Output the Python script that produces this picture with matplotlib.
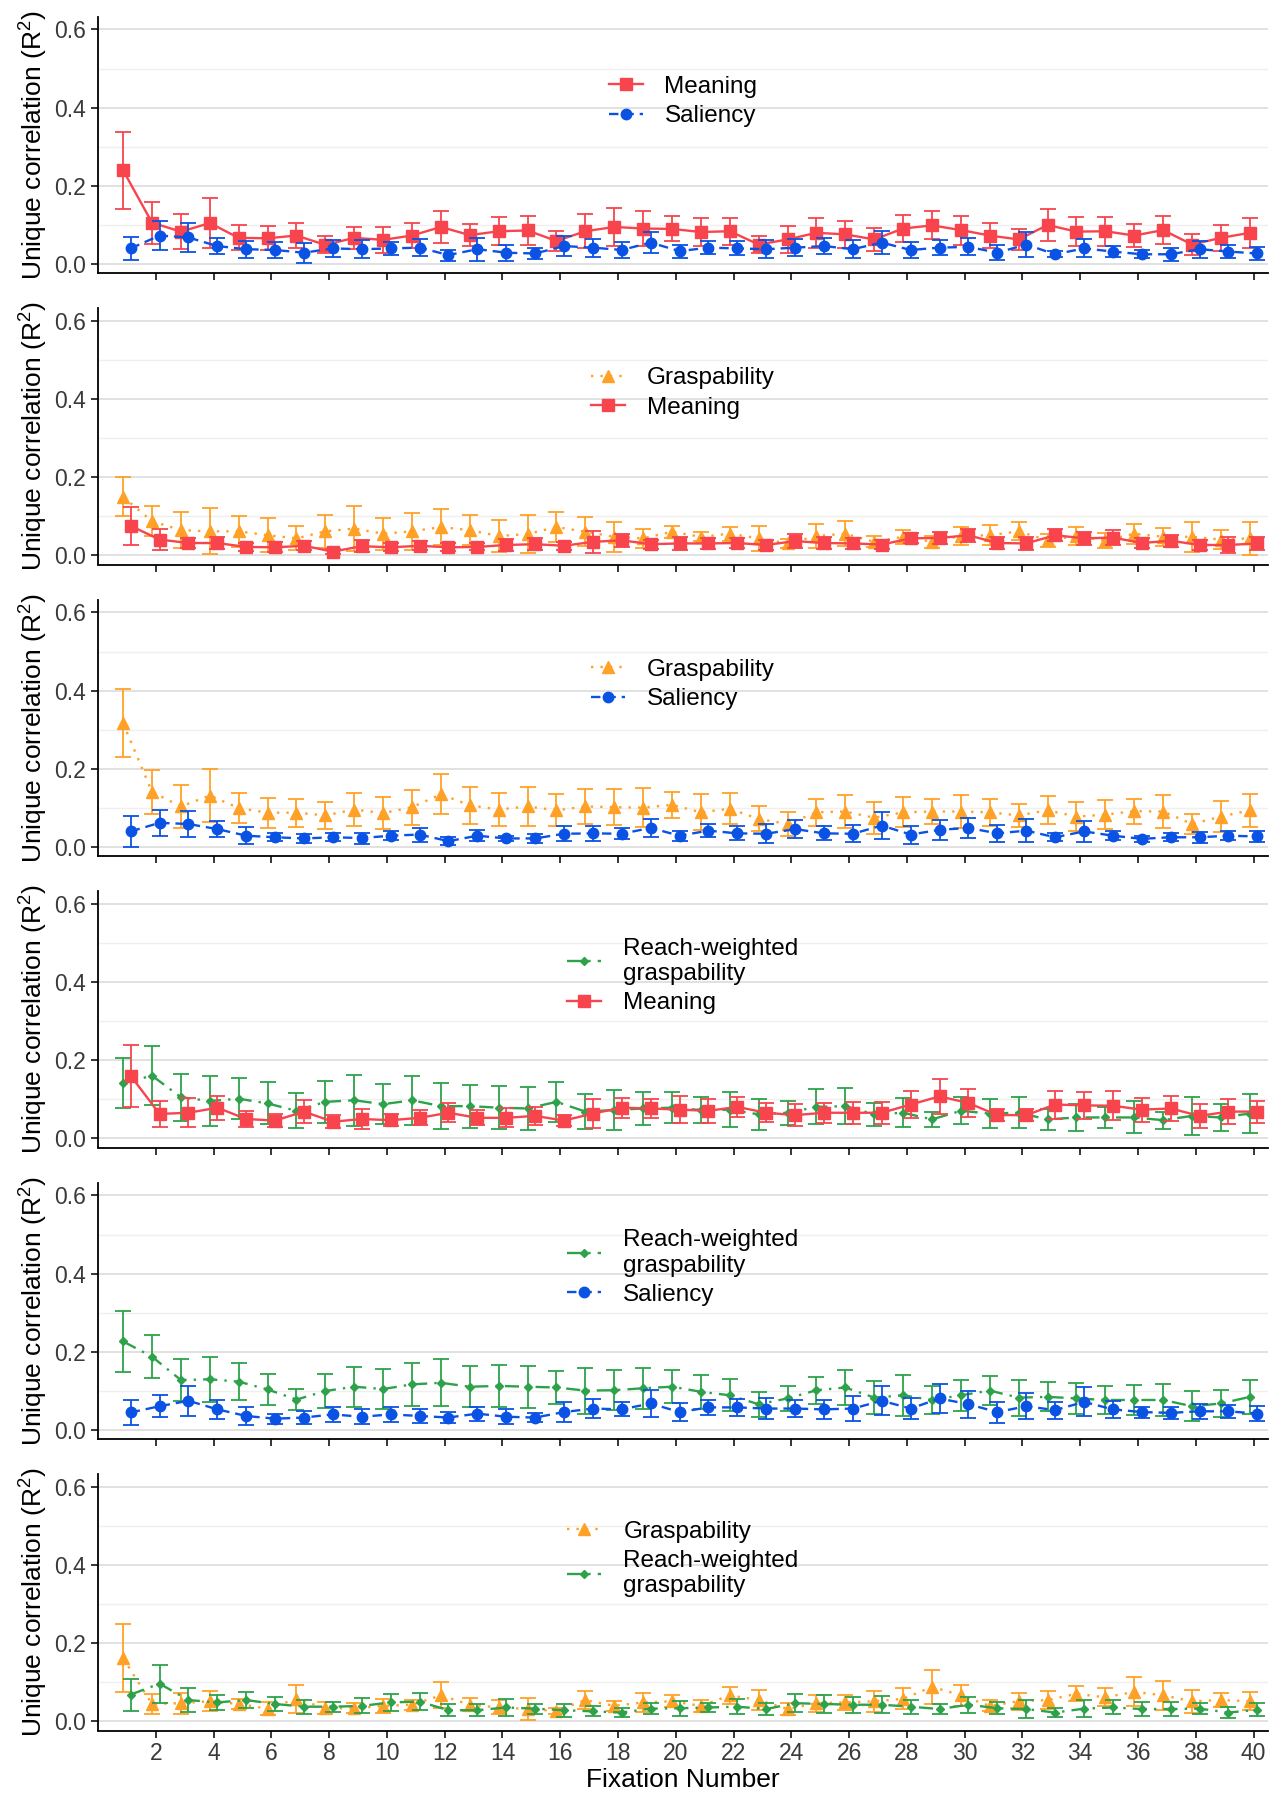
import numpy as np
from matplotlib import pyplot as plt

plt.rcParams['font.family'] = ['Liberation Sans', 'DejaVu Sans']
plt.rcParams['mathtext.fontset'] = 'custom'
plt.rcParams['mathtext.rm'] = 'Liberation Sans'
plt.rcParams['mathtext.it'] = 'Liberation Sans'

fixations = np.arange(1, 41)
x_ticks = list(range(2, 41, 2))
y_ticks = [0.0, 0.2, 0.4, 0.6]

# panel 1: Meaning vs Saliency
p1_meaning = [0.239, 0.105, 0.082, 0.104, 0.066, 0.065, 0.072, 0.048, 0.066, 0.061, 0.072, 0.094, 0.073, 0.083, 0.085, 0.058, 0.083, 0.094, 0.090, 0.089,
              0.081, 0.083, 0.049, 0.062, 0.079, 0.075, 0.062, 0.090, 0.098, 0.086, 0.072, 0.062, 0.099, 0.082, 0.083, 0.072, 0.086, 0.049, 0.066, 0.079]
p1_meaning_ci = [0.099, 0.054, 0.045, 0.064, 0.032, 0.031, 0.031, 0.022, 0.029, 0.034, 0.033, 0.040, 0.029, 0.036, 0.038, 0.025, 0.043, 0.049, 0.045, 0.032,
                 0.037, 0.035, 0.021, 0.034, 0.039, 0.035, 0.029, 0.035, 0.036, 0.037, 0.032, 0.026, 0.041, 0.038, 0.037, 0.030, 0.036, 0.027, 0.034, 0.039]
p1_saliency = [0.039, 0.072, 0.067, 0.045, 0.037, 0.035, 0.028, 0.039, 0.037, 0.039, 0.041, 0.022, 0.037, 0.028, 0.026, 0.045, 0.041, 0.035, 0.054, 0.032,
               0.041, 0.039, 0.037, 0.041, 0.045, 0.037, 0.054, 0.035, 0.041, 0.043, 0.028, 0.049, 0.024, 0.039, 0.031, 0.024, 0.024, 0.037, 0.031, 0.026]
p1_saliency_ci = [0.030, 0.038, 0.037, 0.021, 0.022, 0.021, 0.026, 0.022, 0.023, 0.017, 0.022, 0.014, 0.029, 0.021, 0.015, 0.025, 0.023, 0.021, 0.028, 0.017,
                  0.016, 0.018, 0.023, 0.021, 0.020, 0.023, 0.030, 0.021, 0.020, 0.022, 0.019, 0.031, 0.008, 0.023, 0.013, 0.010, 0.017, 0.022, 0.016, 0.016]

# panel 2: Graspability vs Meaning
p2_grasp = [0.149, 0.087, 0.064, 0.061, 0.061, 0.051, 0.043, 0.061, 0.068, 0.055, 0.061, 0.072, 0.064, 0.049, 0.054, 0.072, 0.060, 0.047, 0.043, 0.060,
            0.047, 0.055, 0.043, 0.030, 0.049, 0.055, 0.034, 0.047, 0.034, 0.049, 0.051, 0.061, 0.038, 0.049, 0.037, 0.055, 0.047, 0.047, 0.040, 0.043]
p2_grasp_ci = [0.050, 0.039, 0.047, 0.059, 0.040, 0.043, 0.031, 0.042, 0.057, 0.041, 0.047, 0.045, 0.039, 0.042, 0.048, 0.039, 0.037, 0.039, 0.025, 0.015,
               0.012, 0.018, 0.032, 0.012, 0.031, 0.032, 0.014, 0.018, 0.015, 0.024, 0.026, 0.023, 0.016, 0.022, 0.019, 0.026, 0.023, 0.038, 0.025, 0.042]
p2_meaning = [0.075, 0.040, 0.031, 0.031, 0.021, 0.020, 0.024, 0.009, 0.023, 0.020, 0.024, 0.020, 0.021, 0.026, 0.028, 0.024, 0.034, 0.038, 0.028, 0.030,
              0.030, 0.031, 0.026, 0.036, 0.031, 0.030, 0.027, 0.043, 0.044, 0.051, 0.031, 0.030, 0.051, 0.043, 0.045, 0.031, 0.037, 0.026, 0.026, 0.030]
p2_meaning_ci = [0.049, 0.026, 0.014, 0.015, 0.010, 0.013, 0.012, 0.007, 0.016, 0.010, 0.011, 0.010, 0.009, 0.015, 0.016, 0.010, 0.028, 0.016, 0.012, 0.016,
                 0.014, 0.014, 0.012, 0.018, 0.015, 0.014, 0.011, 0.013, 0.015, 0.017, 0.015, 0.016, 0.016, 0.017, 0.020, 0.014, 0.015, 0.013, 0.021, 0.016]

# panel 3: Graspability vs Saliency
p3_grasp = [0.316, 0.140, 0.103, 0.131, 0.099, 0.087, 0.087, 0.080, 0.095, 0.086, 0.101, 0.134, 0.106, 0.095, 0.103, 0.093, 0.103, 0.101, 0.100, 0.107,
            0.088, 0.097, 0.071, 0.058, 0.088, 0.090, 0.074, 0.088, 0.090, 0.090, 0.088, 0.080, 0.093, 0.077, 0.082, 0.091, 0.090, 0.058, 0.077, 0.093]
p3_grasp_ci = [0.087, 0.057, 0.055, 0.068, 0.039, 0.038, 0.036, 0.035, 0.043, 0.042, 0.045, 0.051, 0.047, 0.043, 0.050, 0.041, 0.045, 0.046, 0.049, 0.033,
               0.046, 0.040, 0.032, 0.031, 0.034, 0.042, 0.041, 0.038, 0.032, 0.042, 0.035, 0.030, 0.036, 0.037, 0.038, 0.032, 0.042, 0.026, 0.039, 0.042]
p3_saliency = [0.039, 0.061, 0.058, 0.045, 0.028, 0.024, 0.021, 0.024, 0.022, 0.028, 0.031, 0.014, 0.028, 0.021, 0.021, 0.033, 0.034, 0.033, 0.048, 0.028,
               0.041, 0.034, 0.033, 0.045, 0.034, 0.033, 0.054, 0.031, 0.043, 0.048, 0.034, 0.041, 0.024, 0.039, 0.028, 0.020, 0.024, 0.024, 0.028, 0.026]
p3_saliency_ci = [0.040, 0.033, 0.034, 0.020, 0.022, 0.010, 0.012, 0.010, 0.014, 0.012, 0.018, 0.010, 0.014, 0.007, 0.011, 0.019, 0.019, 0.014, 0.023, 0.013,
                  0.017, 0.018, 0.024, 0.024, 0.018, 0.022, 0.034, 0.023, 0.026, 0.026, 0.022, 0.029, 0.010, 0.027, 0.012, 0.008, 0.010, 0.014, 0.012, 0.015]

# panel 4: Reach-weighted graspability vs Meaning
p4_reach = [0.141, 0.160, 0.105, 0.095, 0.101, 0.089, 0.070, 0.093, 0.097, 0.087, 0.097, 0.082, 0.082, 0.078, 0.076, 0.093, 0.068, 0.072, 0.076, 0.078,
            0.072, 0.073, 0.061, 0.065, 0.080, 0.082, 0.061, 0.065, 0.048, 0.070, 0.063, 0.065, 0.048, 0.053, 0.053, 0.053, 0.046, 0.057, 0.053, 0.063]
p4_reach_ci = [0.065, 0.075, 0.060, 0.065, 0.052, 0.054, 0.045, 0.053, 0.066, 0.052, 0.063, 0.058, 0.055, 0.055, 0.056, 0.051, 0.044, 0.051, 0.042, 0.040,
               0.033, 0.045, 0.040, 0.031, 0.045, 0.046, 0.030, 0.037, 0.020, 0.035, 0.036, 0.040, 0.026, 0.034, 0.027, 0.041, 0.022, 0.048, 0.035, 0.049]
p4_meaning = [0.160, 0.062, 0.065, 0.078, 0.049, 0.045, 0.068, 0.042, 0.049, 0.046, 0.052, 0.065, 0.052, 0.052, 0.057, 0.045, 0.063, 0.078, 0.076, 0.073,
              0.070, 0.080, 0.065, 0.059, 0.065, 0.065, 0.065, 0.086, 0.107, 0.090, 0.059, 0.059, 0.086, 0.084, 0.083, 0.073, 0.076, 0.057, 0.068, 0.068]
p4_meaning_ci = [0.079, 0.033, 0.037, 0.031, 0.021, 0.016, 0.030, 0.016, 0.025, 0.016, 0.019, 0.024, 0.019, 0.024, 0.023, 0.013, 0.037, 0.026, 0.024, 0.034,
                 0.030, 0.025, 0.024, 0.029, 0.026, 0.028, 0.028, 0.035, 0.045, 0.037, 0.016, 0.016, 0.036, 0.035, 0.037, 0.031, 0.032, 0.030, 0.031, 0.028]

# panel 5: Reach-weighted graspability vs Saliency
p5_reach = [0.226, 0.187, 0.127, 0.129, 0.123, 0.103, 0.077, 0.099, 0.110, 0.104, 0.116, 0.120, 0.110, 0.112, 0.110, 0.108, 0.100, 0.101, 0.106, 0.110,
            0.097, 0.088, 0.065, 0.080, 0.101, 0.108, 0.082, 0.088, 0.076, 0.088, 0.100, 0.082, 0.084, 0.080, 0.076, 0.076, 0.076, 0.060, 0.067, 0.084]
p5_reach_ci = [0.078, 0.055, 0.053, 0.057, 0.048, 0.039, 0.027, 0.043, 0.051, 0.052, 0.055, 0.060, 0.052, 0.054, 0.054, 0.043, 0.059, 0.051, 0.053, 0.043,
               0.044, 0.041, 0.032, 0.032, 0.035, 0.044, 0.042, 0.052, 0.036, 0.039, 0.037, 0.046, 0.037, 0.040, 0.036, 0.039, 0.041, 0.038, 0.034, 0.044]
p5_saliency = [0.044, 0.060, 0.074, 0.052, 0.035, 0.028, 0.031, 0.039, 0.033, 0.039, 0.035, 0.031, 0.041, 0.033, 0.031, 0.045, 0.054, 0.052, 0.067, 0.045,
               0.057, 0.057, 0.054, 0.054, 0.052, 0.054, 0.074, 0.054, 0.080, 0.065, 0.045, 0.060, 0.050, 0.071, 0.052, 0.045, 0.043, 0.047, 0.047, 0.041]
p5_saliency_ci = [0.032, 0.028, 0.038, 0.025, 0.024, 0.013, 0.017, 0.019, 0.019, 0.020, 0.018, 0.015, 0.018, 0.019, 0.011, 0.025, 0.025, 0.018, 0.035, 0.023,
                  0.020, 0.022, 0.027, 0.022, 0.024, 0.031, 0.037, 0.027, 0.038, 0.034, 0.027, 0.033, 0.022, 0.037, 0.021, 0.014, 0.016, 0.019, 0.017, 0.020]

# panel 6: Graspability vs Reach-weighted graspability
p6_grasp = [0.161, 0.044, 0.046, 0.051, 0.044, 0.032, 0.057, 0.033, 0.033, 0.039, 0.042, 0.066, 0.042, 0.035, 0.031, 0.026, 0.054, 0.039, 0.048, 0.051,
            0.039, 0.066, 0.054, 0.031, 0.046, 0.048, 0.051, 0.057, 0.088, 0.066, 0.039, 0.051, 0.054, 0.070, 0.061, 0.075, 0.066, 0.051, 0.054, 0.051]
p6_grasp_ci = [0.087, 0.025, 0.027, 0.026, 0.012, 0.016, 0.035, 0.015, 0.013, 0.017, 0.013, 0.033, 0.016, 0.018, 0.027, 0.008, 0.022, 0.012, 0.024, 0.016,
               0.016, 0.021, 0.026, 0.015, 0.022, 0.020, 0.027, 0.027, 0.044, 0.026, 0.014, 0.022, 0.022, 0.019, 0.023, 0.037, 0.037, 0.030, 0.018, 0.023]
p6_reach = [0.068, 0.096, 0.054, 0.048, 0.054, 0.044, 0.037, 0.037, 0.039, 0.048, 0.050, 0.028, 0.028, 0.035, 0.032, 0.028, 0.025, 0.022, 0.032, 0.033,
            0.035, 0.037, 0.031, 0.046, 0.044, 0.042, 0.042, 0.037, 0.031, 0.042, 0.033, 0.031, 0.022, 0.032, 0.035, 0.031, 0.031, 0.032, 0.022, 0.029]
p6_reach_ci = [0.041, 0.049, 0.031, 0.020, 0.020, 0.018, 0.018, 0.013, 0.019, 0.022, 0.022, 0.016, 0.016, 0.021, 0.013, 0.017, 0.013, 0.011, 0.014, 0.019,
               0.011, 0.019, 0.016, 0.023, 0.022, 0.020, 0.022, 0.018, 0.013, 0.021, 0.016, 0.023, 0.012, 0.021, 0.018, 0.019, 0.019, 0.014, 0.013, 0.017]

# style per map: colour, marker, marker size, line style
styles = {
    'Meaning': ('#F8444C', 's', 8, '-'),
    'Saliency': ('#0A52E4', 'o', 7.5, (0, (4, 2.5))),
    'Graspability': ('#FFA126', '^', 8.5, (0, (1, 3))),
    'Reach-weighted\ngraspability': ('#2DA24B', 'D', 4, (0, (6, 3, 1, 3))),
}

panels = [
    [('Meaning', p1_meaning, p1_meaning_ci), ('Saliency', p1_saliency, p1_saliency_ci)],
    [('Graspability', p2_grasp, p2_grasp_ci), ('Meaning', p2_meaning, p2_meaning_ci)],
    [('Graspability', p3_grasp, p3_grasp_ci), ('Saliency', p3_saliency, p3_saliency_ci)],
    [('Reach-weighted\ngraspability', p4_reach, p4_reach_ci), ('Meaning', p4_meaning, p4_meaning_ci)],
    [('Reach-weighted\ngraspability', p5_reach, p5_reach_ci), ('Saliency', p5_saliency, p5_saliency_ci)],
    [('Graspability', p6_grasp, p6_grasp_ci), ('Reach-weighted\ngraspability', p6_reach, p6_reach_ci)],
]

fig = plt.figure(figsize=(12.74, 18), dpi=100)
W, H = 1274, 1800
left, right = 98, 1268
dodge = 0.13

for i, series in enumerate(panels):
    top = 17 + 291.5 * i
    ax = fig.add_axes([left / W, 1 - (top + 256) / H, (right - left) / W, 256 / H])
    handles, labels = [], []
    for j, (name, mean, ci) in enumerate(series):
        color, marker, ms, ls = styles[name]
        xs = fixations + (dodge if j == 1 else -dodge)
        eb = ax.errorbar(xs, mean, yerr=ci, color=color, marker=marker, markersize=ms,
                         linestyle=ls, linewidth=1.7, elinewidth=1.3, capsize=6, capthick=1.3,
                         zorder=3 + j)
        handles.append(eb[0])
        labels.append(name)
    ax.legend(handles, labels, loc='center', bbox_to_anchor=(0.5, 0.67), frameon=False,
              fontsize=17.5, handlelength=1.4, labelspacing=0.3, handletextpad=0.9)

    ax.set_xlim(0, 40.5)
    ax.set_ylim(-0.024, 0.632)
    ax.set_yticks(y_ticks)
    ax.set_yticklabels(['0.0', '0.2', '0.4', '0.6'])
    ax.set_yticks([0.1, 0.3, 0.5], minor=True)
    ax.set_xticks(x_ticks)
    ax.grid(axis='y', which='major', color='#dcdcdc', linewidth=1.2)
    ax.grid(axis='y', which='minor', color='#efefef', linewidth=1.0)
    ax.set_axisbelow(True)
    ax.tick_params(axis='y', which='minor', length=0)
    ax.tick_params(axis='both', which='major', labelsize=16.5, labelcolor='#3a3a3a', length=5, width=1.1)
    for side in ['top', 'right']:
        ax.spines[side].set_visible(False)
    for side in ['left', 'bottom']:
        ax.spines[side].set_linewidth(1.3)
    ax.set_ylabel('Unique correlation (R$^{2}$)', fontsize=19, labelpad=3)
    if i < len(panels) - 1:
        ax.set_xticklabels([])
    else:
        ax.set_xlabel('Fixation Number', fontsize=19, labelpad=2)

plt.savefig('out.png', dpi=100)
